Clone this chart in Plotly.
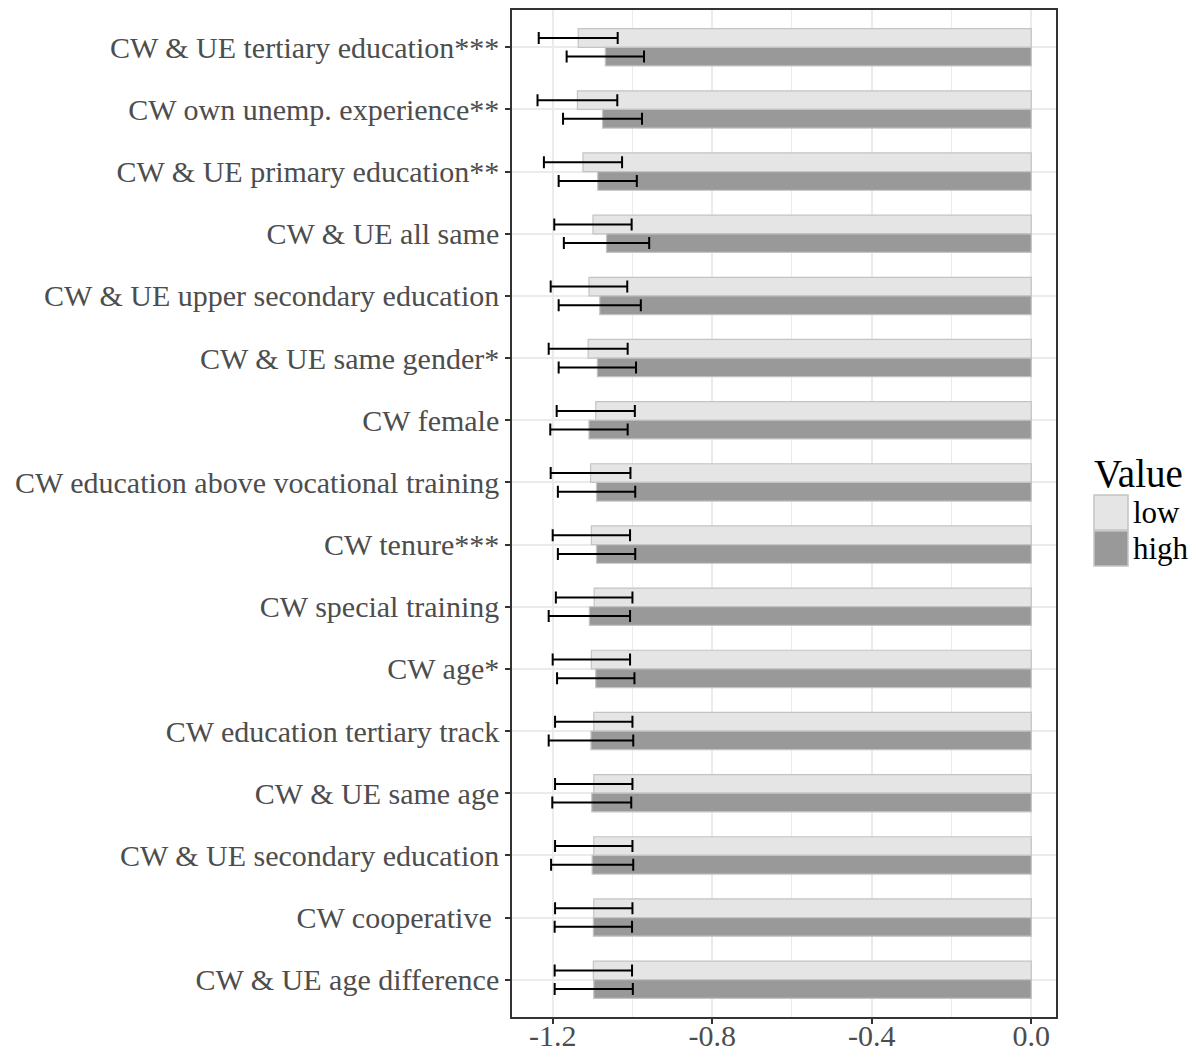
import plotly.graph_objects as go

categories = [
    "CW & UE tertiary education***",
    "CW own unemp. experience**",
    "CW & UE primary education**",
    "CW & UE all same",
    "CW & UE upper secondary education",
    "CW & UE same gender*",
    "CW female",
    "CW education above vocational training",
    "CW tenure***",
    "CW special training",
    "CW age*",
    "CW education tertiary track",
    "CW & UE same age",
    "CW & UE secondary education",
    "CW cooperative\u00a0",
    "CW & UE age difference",
]

low_values = [-1.136, -1.138, -1.124, -1.099, -1.109, -1.111, -1.092, -1.105,
              -1.103, -1.096, -1.103, -1.097, -1.097, -1.097, -1.097, -1.098]
low_err = [0.099, 0.100, 0.098, 0.097, 0.096, 0.099, 0.098, 0.100,
           0.097, 0.096, 0.097, 0.097, 0.097, 0.097, 0.097, 0.097]
high_values = [-1.068, -1.075, -1.087, -1.065, -1.082, -1.088, -1.109, -1.090,
               -1.090, -1.108, -1.092, -1.104, -1.102, -1.101, -1.098, -1.097]
high_err = [0.097, 0.099, 0.098, 0.107, 0.103, 0.097, 0.097, 0.097,
            0.097, 0.102, 0.097, 0.106, 0.099, 0.103, 0.097, 0.098]

x_ticks = [-1.2, -0.8, -0.4, 0.0]
x_tick_labels = ["-1.2", "-0.8", "-0.4", "0.0"]

FONT = "Liberation Serif"
GRID = "#EBEBEB"

# plot panel in pixels
PL, PR, PT, PB = 512, 1056, 10, 1017
W, H = 1197, 1052


def px_x(px):
    return (px - PL) / (PR - PL)


def px_y(py):
    return (PB - py) / (PB - PT)


fig = go.Figure()
fig.add_trace(go.Bar(
    y=categories, x=low_values, orientation="h", name="low",
    marker=dict(color="#E5E5E5", line=dict(color="#C4C4C4", width=1.2)),
    error_x=dict(type="data", array=low_err, symmetric=True,
                 color="black", thickness=2, width=6),
    showlegend=False,
))
fig.add_trace(go.Bar(
    y=categories, x=high_values, orientation="h", name="high",
    marker=dict(color="#999999", line=dict(color="#C4C4C4", width=1.2)),
    error_x=dict(type="data", array=high_err, symmetric=True,
                 color="black", thickness=2, width=6),
    showlegend=False,
))

fig.update_layout(
    width=W, height=H,
    margin=dict(l=PL, r=W - PR, t=PT, b=H - PB, autoexpand=False),
    paper_bgcolor="white", plot_bgcolor="white",
    barmode="group", bargap=0.4, bargroupgap=0,
    font=dict(family=FONT, size=30, color="#4D4D4D"),
    xaxis=dict(
        range=[-1.302, 0.062], tickmode="array", tickvals=x_ticks,
        ticktext=x_tick_labels, showgrid=True, gridcolor=GRID, gridwidth=1.5,
        minor=dict(showgrid=True, gridcolor=GRID, gridwidth=1, dtick=0.2, tick0=0,
                   ticks=""),
        zeroline=False, ticks="outside", ticklen=5, tickcolor="#333333",
        tickwidth=1.5, showline=True, linecolor="#333333", linewidth=1.5,
        mirror=True, automargin=False, ticklabelstandoff=-14,
        tickfont=dict(family=FONT, size=30, color="#4D4D4D"),
    ),
    yaxis=dict(
        type="category", categoryorder="array", categoryarray=categories,
        range=[15.6, -0.6], showgrid=True, gridcolor=GRID, gridwidth=1.5,
        ticks="outside", ticklen=5, tickcolor="#333333", tickwidth=1.5,
        showline=True, linecolor="#333333", linewidth=1.5, mirror=True,
        automargin=False,
        tickfont=dict(family=FONT, size=30, color="#4D4D4D"),
    ),
)

# Legend drawn manually (large ggplot-style keys)
fig.add_annotation(x=px_x(1092), y=px_y(473), xref="paper", yref="paper",
                   text="Value", showarrow=False, xanchor="left", yanchor="middle",
                   font=dict(family=FONT, size=39, color="black"))
keys = [("low", "#E5E5E5", 495), ("high", "#999999", 531)]
for label, color, top in keys:
    fig.add_shape(type="rect", xref="paper", yref="paper",
                  x0=px_x(1094), x1=px_x(1128),
                  y0=px_y(top + 35), y1=px_y(top),
                  fillcolor=color, line=dict(color="#C4C4C4", width=1.5))
    fig.add_annotation(x=px_x(1131), y=px_y(top + 17), xref="paper",
                       yref="paper", text=label, showarrow=False, xanchor="left",
                       yanchor="middle",
                       font=dict(family=FONT, size=31, color="black"))

fig.write_html("out.html")
